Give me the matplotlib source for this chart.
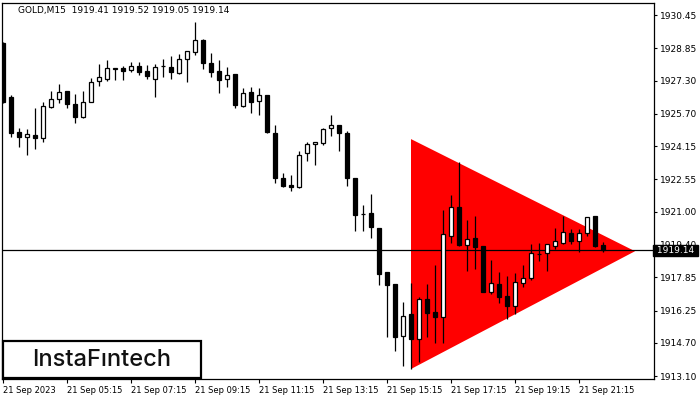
import matplotlib
matplotlib.use("Agg")
import matplotlib.pyplot as plt
from matplotlib.patches import Rectangle, Polygon
import numpy as np

# OHLC of the 76 fifteen-minute GOLD candles
opens = [1929.10, 1926.51, 1924.83, 1924.59, 1924.68, 1924.54, 1926.03, 1926.41, 1926.80, 1926.17,
         1925.55, 1926.27, 1927.28, 1927.37, 1927.88, 1927.90, 1927.81, 1928.00, 1927.76, 1927.37,
         1928.00, 1927.95, 1927.66, 1928.34, 1928.67, 1929.25, 1928.14, 1927.76, 1927.37, 1927.61,
         1926.08, 1926.75, 1926.32, 1926.61, 1924.78, 1922.62, 1922.28, 1922.18, 1923.82, 1924.25,
         1924.30, 1925.02, 1925.16, 1924.78, 1922.62, 1920.87, 1920.93, 1920.21, 1918.10, 1917.52,
         1915.02, 1916.08, 1914.88, 1916.80, 1916.18, 1915.94, 1919.83, 1921.22, 1919.40, 1919.73,
         1919.35, 1917.14, 1917.52, 1916.95, 1916.47, 1917.57, 1917.81, 1918.96, 1919.01, 1919.35,
         1919.49, 1919.97, 1919.59, 1919.97, 1920.79, 1919.41]
highs = [1929.15, 1926.61, 1925.02, 1924.97, 1925.98, 1926.27, 1926.80, 1927.13, 1926.82, 1926.65,
         1926.80, 1927.42, 1928.10, 1928.29, 1927.92, 1928.00, 1928.19, 1928.19, 1928.05, 1928.10,
         1928.34, 1928.48, 1928.58, 1928.74, 1930.11, 1929.30, 1928.62, 1928.29, 1927.95, 1927.63,
         1926.94, 1926.99, 1926.94, 1926.63, 1925.16, 1922.86, 1922.76, 1923.91, 1924.35, 1924.37,
         1925.02, 1925.64, 1925.18, 1924.87, 1922.64, 1921.32, 1921.85, 1920.23, 1918.12, 1917.54,
         1916.66, 1917.57, 1916.90, 1917.52, 1918.44, 1921.08, 1921.80, 1923.38, 1920.60, 1920.79,
         1919.37, 1918.67, 1918.10, 1917.91, 1918.05, 1918.44, 1919.45, 1919.49, 1919.47, 1920.21,
         1920.79, 1920.16, 1920.16, 1920.76, 1920.81, 1919.52]
lows = [1926.22, 1924.59, 1924.11, 1923.72, 1924.01, 1924.35, 1926.00, 1926.22, 1925.98, 1925.26,
        1925.52, 1926.25, 1927.04, 1927.28, 1927.33, 1927.33, 1927.71, 1927.57, 1927.37, 1926.51,
        1927.47, 1927.37, 1927.64, 1927.23, 1928.53, 1927.85, 1927.47, 1926.70, 1926.99, 1925.98,
        1926.03, 1925.74, 1925.64, 1924.78, 1922.38, 1922.18, 1921.99, 1922.16, 1923.43, 1923.24,
        1924.20, 1924.63, 1923.91, 1922.23, 1920.07, 1920.07, 1919.73, 1917.47, 1914.97, 1914.30,
        1913.58, 1913.44, 1913.77, 1914.97, 1914.69, 1914.69, 1919.49, 1919.35, 1918.15, 1918.24,
        1917.12, 1917.04, 1916.61, 1915.84, 1916.08, 1917.38, 1917.71, 1918.63, 1918.15, 1919.21,
        1919.47, 1919.45, 1919.06, 1919.83, 1919.30, 1919.05]
closes = [1926.27, 1924.78, 1924.59, 1924.73, 1924.54, 1926.08, 1926.41, 1926.75, 1926.17, 1925.55,
          1926.27, 1927.23, 1927.47, 1927.90, 1927.90, 1927.76, 1928.00, 1927.71, 1927.52, 1927.95,
          1928.02, 1927.71, 1928.34, 1928.72, 1929.25, 1928.14, 1927.71, 1927.33, 1927.57, 1926.12,
          1926.70, 1926.27, 1926.61, 1924.83, 1922.62, 1922.23, 1922.18, 1923.72, 1924.25, 1924.35,
          1924.97, 1925.16, 1924.78, 1922.62, 1920.84, 1920.89, 1920.26, 1918.00, 1917.47, 1914.97,
          1915.98, 1914.88, 1916.80, 1916.13, 1915.94, 1919.93, 1921.22, 1919.40, 1919.69, 1919.30,
          1917.14, 1917.57, 1916.90, 1916.47, 1917.62, 1917.81, 1919.01, 1918.98, 1919.45, 1919.59,
          1920.02, 1919.59, 1919.97, 1920.74, 1919.35, 1919.14]

# symmetrical triangle pattern (bar index, price)
tri_bars = [51, 51, 79]
tri_prices = [1924.49, 1913.44, 1919.10]

bid = 1919.14
title = "GOLD,M15  1919.41 1919.52 1919.05 1919.14"

y_ticks = [1930.45, 1928.85, 1927.30, 1925.70, 1924.15, 1922.55, 1921.00,
           1919.40, 1917.85, 1916.25, 1914.70, 1913.10]
x_tick_bars = [0, 8, 16, 24, 32, 40, 48, 56, 64, 72]
x_tick_labels = ["21 Sep 2023", "21 Sep 05:15", "21 Sep 07:15", "21 Sep 09:15", "21 Sep 11:15",
                 "21 Sep 13:15", "21 Sep 15:15", "21 Sep 17:15", "21 Sep 19:15", "21 Sep 21:15"]

fig = plt.figure(figsize=(7, 4), dpi=100)
ax = fig.add_axes([2 / 700, 21 / 400, 652 / 700, 376 / 400])

idx = np.arange(len(opens))
o = np.array(opens)
h = np.array(highs)
l = np.array(lows)
c = np.array(closes)

# red triangle behind the candles
ax.add_patch(Polygon(np.column_stack([tri_bars, tri_prices]), closed=True,
                     facecolor="#ff0000", edgecolor="none", zorder=1))

# bid line
ax.axhline(bid, color="black", lw=0.9, zorder=2)

# wicks then bodies
ax.vlines(idx, l, h, color="black", lw=0.9, zorder=3)
up = c >= o
body_lo = np.minimum(o, c)
body_h = np.maximum(np.abs(c - o), 0.02)
ax.bar(idx[up], body_h[up], bottom=body_lo[up], width=0.6, color="white",
       edgecolor="black", linewidth=0.9, zorder=4)
ax.bar(idx[~up], body_h[~up], bottom=body_lo[~up], width=0.6, color="black",
       edgecolor="black", linewidth=0.9, zorder=4)

ax.set_xlim(-0.125, 81.375)
ax.set_ylim(1912.96, 1931.03)

# axes look like the terminal window
for s in ax.spines.values():
    s.set_color("black")
    s.set_linewidth(0.9)
ax.yaxis.tick_right()
ax.set_yticks(y_ticks)
ax.set_yticklabels([f"{v:.2f}" for v in y_ticks])
ax.tick_params(axis="y", direction="out", length=2.5, width=0.8, pad=2,
               labelsize=6.5, colors="black")
ax.set_xticks(x_tick_bars)
ax.set_xticklabels(x_tick_labels)
ax.tick_params(axis="x", direction="out", length=3, width=0.8, pad=2,
               labelsize=6.0, colors="black")
for lab in ax.get_xticklabels():
    lab.set_ha("left")

# current price tag on the right scale (covers most of the 1919.40 label, as in MT4)
ax.text(1.0, bid, " 1919.14 ", transform=ax.get_yaxis_transform(),
        ha="left", va="center", fontsize=6.5, color="white", zorder=10,
        bbox=dict(boxstyle="square,pad=0.15", facecolor="black", edgecolor="black"),
        clip_on=False)

# symbol / OHLC header
fig.text(18 / 700, 1 - 11 / 400, title, fontsize=6.5, color="black",
         ha="left", va="center")

# logo box
fig.add_artist(Rectangle((3 / 700, 22 / 400), 198 / 700, 37 / 400,
                         transform=fig.transFigure, facecolor="white",
                         edgecolor="black", linewidth=1.6, zorder=20))
fig.text(102 / 700, 1 - 360 / 400, "InstaF\u0131ntech", fontsize=17,
         family="Inter", fontweight="medium", color="#111111",
         ha="center", va="center", zorder=21)

fig.savefig("out.png", dpi=100)
